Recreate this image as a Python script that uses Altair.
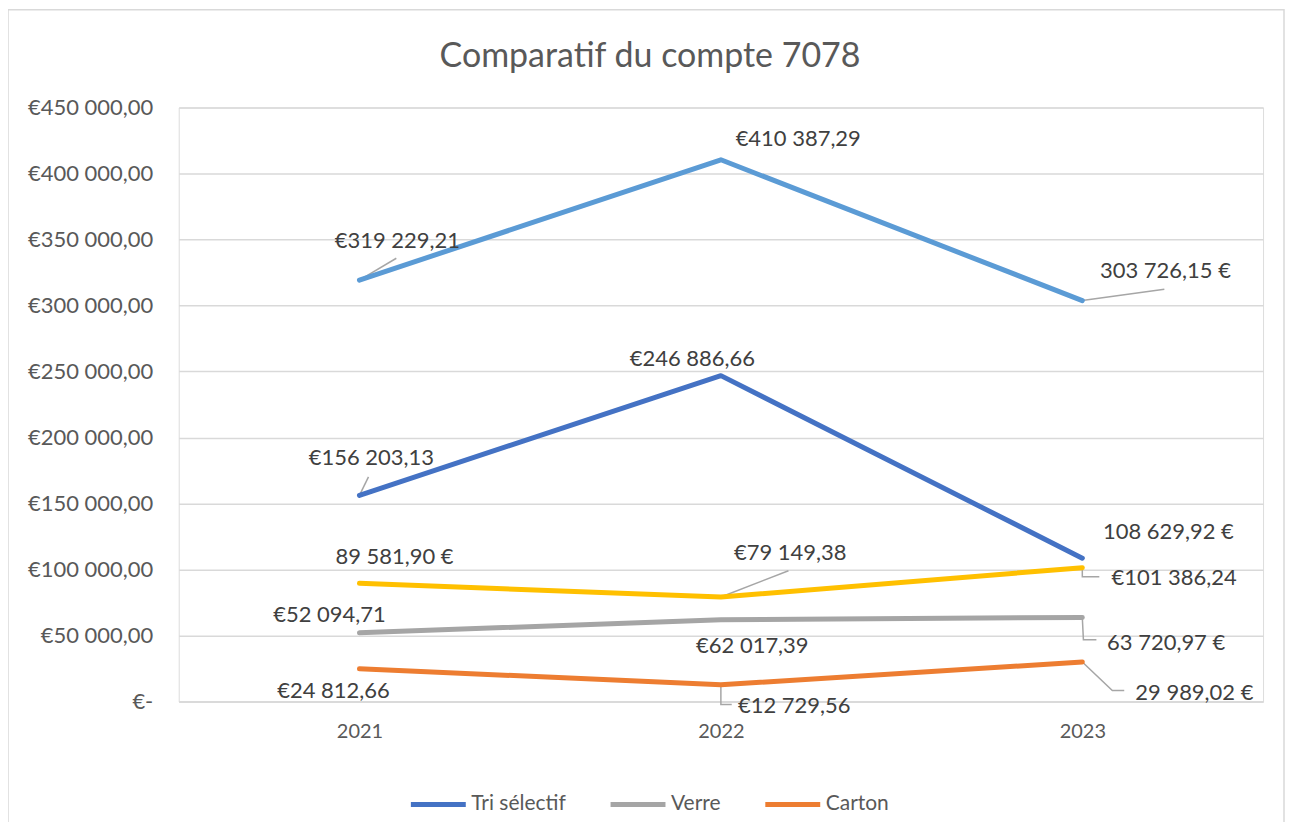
import altair as alt
import pandas as pd

title_text = "Comparatif du compte 7078"
years = [2021, 2022, 2023]
series_names = ["Série 1", "Tri sélectif", "Série 3", "Verre", "Carton"]
series_colors = ["#5B9BD5", "#4472C4", "#FFC000", "#A5A5A5", "#ED7D31"]
values_s1 = [319229.21, 410387.29, 303726.15]
values_tri = [156203.13, 246886.66, 108629.92]
values_s3 = [89581.90, 79149.38, 101386.24]
values_verre = [52094.71, 62017.39, 63720.97]
values_carton = [24812.66, 12729.56, 29989.02]
all_values = [values_s1, values_tri, values_s3, values_verre, values_carton]

label_texts = [
    ["€319 229,21", "€410 387,29", "303 726,15 €"],
    ["€156 203,13", "€246 886,66", "108 629,92 €"],
    ["89 581,90 €", "€79 149,38", "€101 386,24"],
    ["€52 094,71", "€62 017,39", "63 720,97 €"],
    ["€24 812,66", "€12 729,56", "29 989,02 €"],
]
# label anchor positions (data units: year, value)
label_x = [
    [2021.105, 2022.214, 2023.230],
    [2021.033, 2021.921, 2023.238],
    [2021.097, 2022.192, 2023.254],
    [2020.917, 2022.087, 2023.232],
    [2020.928, 2022.203, 2023.310],
]
label_y = [
    [348654, 425797, 325965],
    [184537, 259411, 128571],
    [109664, 112689, 93781],
    [65798, 42353, 44622],
    [8319, -3025, 6807],
]
# leader lines: (series index, year index, extra points in data units)
leaders = [
    (0, 0, [(2021.102, 335797)]),
    (0, 2, [(2023.227, 312352)]),
    (1, 0, [(2021.025, 170168)]),
    (2, 1, [(2022.187, 99075)]),
    (2, 2, [(2023.0, 94538), (2023.047, 94538)]),
    (3, 2, [(2023.003, 46891), (2023.039, 46891)]),
    (4, 1, [(2022.0, -2269), (2022.030, -2269)]),
    (4, 2, [(2023.083, 8319), (2023.116, 8319)]),
]

rows = []
lab_rows = []
for si, name in enumerate(series_names):
    for yi, yr in enumerate(years):
        rows.append({"series": name, "year": yr, "value": all_values[si][yi], "order": si})
        lab_rows.append({"txt": label_texts[si][yi], "lx": label_x[si][yi], "ly": label_y[si][yi]})
df = pd.DataFrame(rows)
df_lab = pd.DataFrame(lab_rows)

lead_rows = []
for li, (si, yi, pts) in enumerate(leaders):
    lead_rows.append({"lid": li, "k": 0, "x": years[yi], "y": all_values[si][yi]})
    for k, (px, py) in enumerate(pts):
        lead_rows.append({"lid": li, "k": k + 1, "x": px, "y": py})
df_lead = pd.DataFrame(lead_rows)

FONT = "Lato"
xscale = alt.Scale(domain=[2020.5, 2023.5], nice=False, zero=False)
yscale = alt.Scale(domain=[0, 450000], nice=False)

y_label_expr = ("datum.value == 0 ? '€-' : '€' + replace(replace(format(datum.value, ',.2f'), ',', ' '), '.', ',')")

base_lines = alt.Chart(df).mark_line(strokeWidth=5, strokeCap="round", strokeJoin="round").encode(
    x=alt.X("year:Q", scale=xscale,
            axis=alt.Axis(values=years, format="d", title=None, grid=False, ticks=False, tickSize=0,
                          labelPadding=20, labelFontSize=20, labelFont=FONT, labelColor="#595959",
                          domainColor="#D9D9D9", domainWidth=1.5)),
    y=alt.Y("value:Q", scale=yscale,
            axis=alt.Axis(values=list(range(0, 450001, 50000)), labelExpr=y_label_expr, title=None,
                          grid=True, gridColor="#D9D9D9", gridWidth=1.5, domain=False, ticks=False,
                          tickSize=0, labelPadding=26, labelFontSize=22, labelFont=FONT,
                          labelColor="#595959")),
    color=alt.Color("series:N",
                    scale=alt.Scale(domain=series_names, range=series_colors),
                    legend=alt.Legend(values=["Tri sélectif", "Verre", "Carton"], title=None,
                                      orient="none", legendX=230, legendY=668, direction="horizontal",
                                      symbolType="stroke", symbolSize=3025, symbolStrokeWidth=5,
                                      labelFontSize=21, labelFont=FONT, labelColor="#595959",
                                      labelOffset=3, columnPadding=34)),
    detail="series:N",
    order="year:Q",
)

leader_lines = alt.Chart(df_lead).mark_line(strokeWidth=1.5, color="#A6A6A6").encode(
    x=alt.X("x:Q", scale=xscale),
    y=alt.Y("y:Q", scale=yscale),
    detail="lid:N",
    order="k:Q",
)

labels = alt.Chart(df_lab).mark_text(font=FONT, fontSize=22, color="#404040", align="center",
                                      baseline="middle").encode(
    x=alt.X("lx:Q", scale=xscale),
    y=alt.Y("ly:Q", scale=yscale),
    text="txt:N",
)

title_mark = alt.Chart(alt.Data(values=[{"t": title_text}])).mark_text(
    font=FONT, fontSize=34, color="#595959", align="center", baseline="middle"
).encode(x=alt.value(472), y=alt.value(-51), text="t:N")

border = alt.Chart(alt.Data(values=[{"a": 1}])).mark_rect(fillOpacity=0, stroke="#D9D9D9",
                                                          strokeWidth=1.5).encode(
    x=alt.value(-171), x2=alt.value(1107), y=alt.value(-98), y2=alt.value(740)
)

chart = alt.layer(border, leader_lines, base_lines, labels, title_mark).properties(
    width=1086,
    height=595,
    padding={"left": 171, "top": 99, "right": 22, "bottom": 130},
    autosize=alt.AutoSizeParams(type="none"),
).configure_view(stroke=None).configure(background="white")

chart.save("out.html", embed_options={"renderer": "svg", "actions": False})
